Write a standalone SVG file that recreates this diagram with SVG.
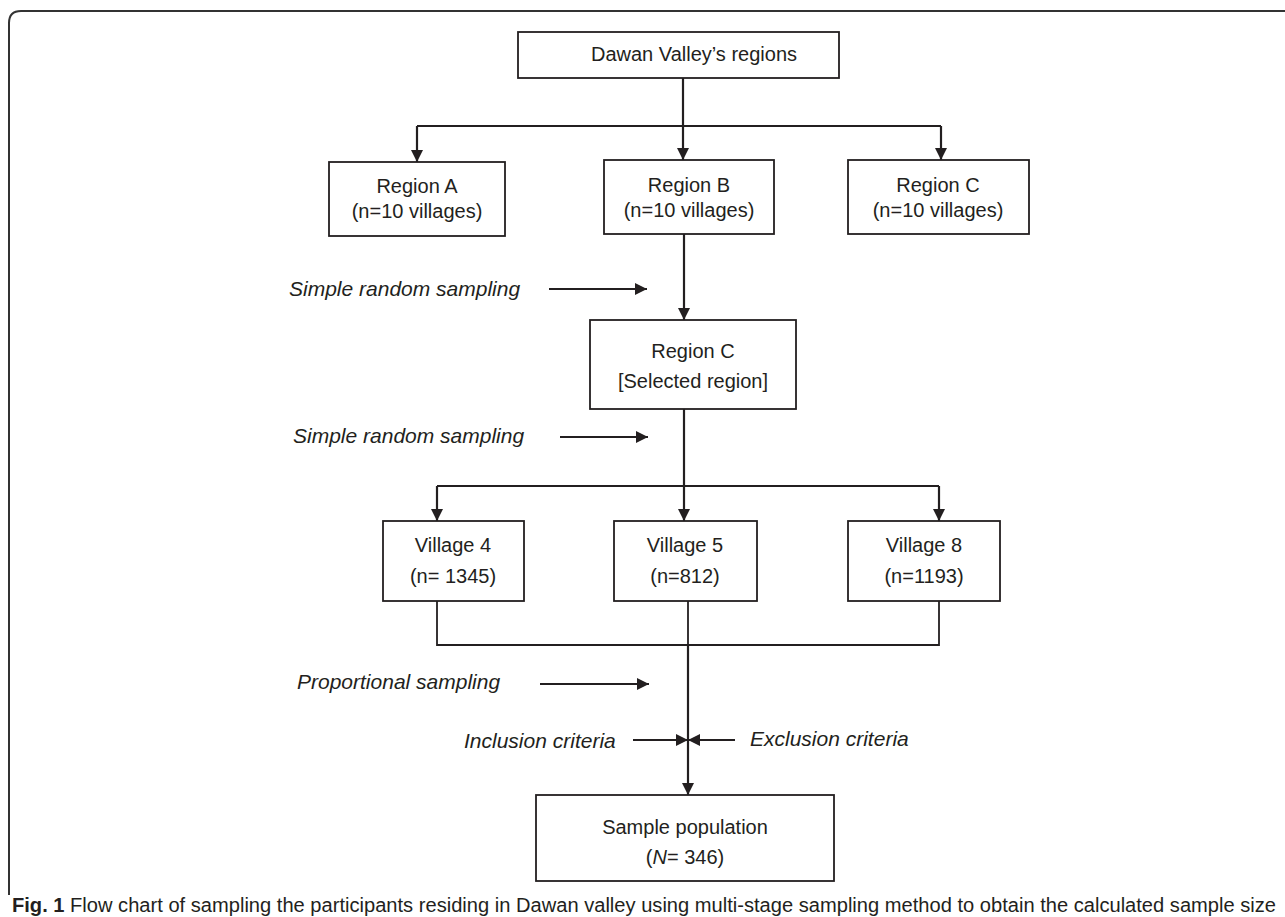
<svg xmlns="http://www.w3.org/2000/svg" width="1285" height="917" viewBox="0 0 1285 917">
<defs>
<marker id="ah" viewBox="0 0 12 12" refX="12" refY="6" markerWidth="12" markerHeight="12" markerUnits="userSpaceOnUse" orient="auto">
<path d="M0,0 L12,6 L0,12 z" fill="#231f20"/>
</marker>
<style>
.box{fill:#fff;stroke:#231f20;stroke-width:1.8}
.t{font-family:"Liberation Sans",Arial,sans-serif;font-size:20px;fill:#231f20;text-anchor:middle}
.it{font-family:"Liberation Sans",Arial,sans-serif;font-size:21px;font-style:italic;fill:#231f20}
.ln{fill:none;stroke:#231f20;stroke-width:1.8}
.ar{fill:none;stroke:#231f20;stroke-width:2.2;marker-end:url(#ah)}
.cap{font-family:"Liberation Sans",Arial,sans-serif;font-size:20px;fill:#231f20}
</style>
</defs>
<rect width="1285" height="917" fill="#fff"/>
<path d="M9,895 V23 Q9,11 21,11 H1285" fill="none" stroke="#333" stroke-width="2"/>

<g id="connectors">
<path class="ar" d="M683,78 V160"/>
<path class="ln" d="M417,126 H941"/>
<path class="ar" d="M417,126 V162"/>
<path class="ar" d="M941,126 V160"/>
<path class="ar" d="M684,234 V320"/>
<path class="ar" d="M549,289 H647"/>
<path class="ar" d="M684,409 V521"/>
<path class="ln" d="M437,486 H939"/>
<path class="ar" d="M437,486 V521"/>
<path class="ar" d="M939,486 V521"/>
<path class="ar" d="M560,437 H648"/>
<path class="ln" d="M437,601 V645 H939 V601"/>
<path class="ln" d="M688,601 V645"/>
<path class="ar" d="M688,645 V795"/>
<path class="ar" d="M540,684 H649"/>
<path class="ar" d="M633,740 H688"/>
<path class="ar" d="M735,740 H688"/>
</g>

<g id="n-dawan">
<rect class="box" x="518" y="32" width="321" height="46"/>
<text class="t" x="694" y="61">Dawan Valley’s regions</text>
</g>
<g id="n-regionA">
<rect class="box" x="329" y="162" width="176" height="74"/>
<text class="t" x="417" y="193">Region A</text>
<text class="t" x="417" y="218">(n=10 villages)</text>
</g>
<g id="n-regionB">
<rect class="box" x="604" y="160" width="170" height="74"/>
<text class="t" x="689" y="192">Region B</text>
<text class="t" x="689" y="217">(n=10 villages)</text>
</g>
<g id="n-regionC">
<rect class="box" x="848" y="160" width="181" height="74"/>
<text class="t" x="938" y="192">Region C</text>
<text class="t" x="938" y="217">(n=10 villages)</text>
</g>
<g id="n-selected">
<rect class="box" x="590" y="320" width="206" height="89"/>
<text class="t" x="693" y="358">Region C</text>
<text class="t" x="693" y="388">[Selected region]</text>
</g>
<g id="n-v4">
<rect class="box" x="383" y="521" width="141" height="80"/>
<text class="t" x="453" y="552">Village 4</text>
<text class="t" x="453" y="583">(n= 1345)</text>
</g>
<g id="n-v5">
<rect class="box" x="614" y="521" width="143" height="80"/>
<text class="t" x="685" y="552">Village 5</text>
<text class="t" x="685" y="583">(n=812)</text>
</g>
<g id="n-v8">
<rect class="box" x="848" y="521" width="152" height="80"/>
<text class="t" x="924" y="552">Village 8</text>
<text class="t" x="924" y="583">(n=1193)</text>
</g>
<g id="n-sample">
<rect class="box" x="536" y="795" width="298" height="86"/>
<text class="t" x="685" y="834">Sample population</text>
<text class="t" x="685" y="864">(<tspan font-style="italic">N</tspan>= 346)</text>
</g>

<g id="labels">
<text class="it" x="289" y="296">Simple random sampling</text>
<text class="it" x="293" y="443">Simple random sampling</text>
<text class="it" x="297" y="689">Proportional sampling</text>
<text class="it" x="464" y="748">Inclusion criteria</text>
<text class="it" x="750" y="746">Exclusion criteria</text>
</g>

<text class="cap" x="12" y="912" textLength="1264" lengthAdjust="spacingAndGlyphs"><tspan font-weight="bold">Fig. 1</tspan> Flow chart of sampling the participants residing in Dawan valley using multi-stage sampling method to obtain the calculated sample size</text>
</svg>
